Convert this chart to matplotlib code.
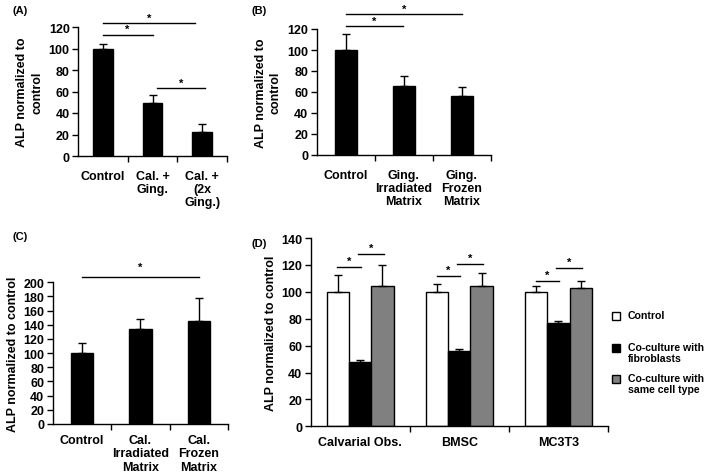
import matplotlib
matplotlib.use("Agg")
import matplotlib.pyplot as plt
import numpy as np

plt.rcParams['font.family'] = ['Liberation Sans', 'DejaVu Sans']
plt.rcParams['font.weight'] = 'bold'
plt.rcParams['font.size'] = 9

# ---------------- data ----------------
a_cats = ["Control", "Cal. +\nGing.", "Cal. +\n(2x\nGing.)"]
a_vals = [100, 49.5, 22.5]
a_errs = [4.5, 7, 7.5]

b_cats = ["Control", "Ging.\nIrradiated\nMatrix", "Ging.\nFrozen\nMatrix"]
b_vals = [100, 65.5, 56]
b_errs = [15, 9.5, 8.5]

c_cats = ["Control", "Cal.\nIrradiated\nMatrix", "Cal.\nFrozen\nMatrix"]
c_vals = [100, 134.5, 146]
c_errs = [15, 13.5, 32]

d_cats = ["Calvarial Obs.", "BMSC", "MC3T3"]
d_series = ["Control", "Co-culture with\nfibroblasts", "Co-culture with\nsame cell type"]
d_control = [100, 100, 100]
d_control_err = [12.5, 6, 4.2]
d_fibro = [48, 56.2, 76.8]
d_fibro_err = [1.5, 1.5, 1.5]
d_same = [104, 104, 102.5]
d_same_err = [16, 10, 5.3]

fig = plt.figure(figsize=(7.09, 4.77), dpi=100)
W, H = 709.0, 477.0


def style_axes(ax, n, ylim, yticks, cats, ylabel, label_pad, xpad):
    ax.set_xlim(-0.5, n - 0.5)
    ax.set_ylim(*ylim)
    ax.set_yticks(yticks)
    ax.spines['top'].set_visible(False)
    ax.spines['right'].set_visible(False)
    for s in ('left', 'bottom'):
        ax.spines[s].set_linewidth(1.0)
    ax.set_xticks(range(n))
    ax.set_xticklabels(cats, fontweight='bold', fontsize=9, linespacing=1.12)
    ax.tick_params(axis='x', which='major', length=0, pad=xpad)
    ax.set_xticks(np.arange(0.5, n, 1.0), minor=True)
    ax.tick_params(axis='x', which='minor', length=4, width=1, direction='out')
    ax.tick_params(axis='y', length=4, width=1, direction='out', pad=2, labelsize=9)
    for t in ax.get_yticklabels():
        t.set_fontweight('bold')
    ax.set_ylabel(ylabel, fontweight='bold', fontsize=9, labelpad=label_pad, linespacing=1.35)


def sig(ax, x0, x1, y, dy):
    ax.plot([x0, x1], [y, y], color='black', lw=1, clip_on=False)
    ax.text((x0 + x1) / 2, y + dy, '*', ha='center', va='center', fontsize=8, clip_on=False)


ekw = dict(ecolor='black', elinewidth=1, capsize=2.6, capthick=1)

# ---------------- (A) ----------------
axA = fig.add_axes([78 / W, 1 - 157 / H, 149 / W, 129 / H])
x = np.arange(len(a_cats))
axA.bar(x, a_vals, width=0.4, color='black', edgecolor='black', lw=1)
axA.errorbar(x, a_vals, yerr=[np.zeros(len(a_errs)), a_errs], fmt='none', **ekw)
style_axes(axA, 3, (0, 120), range(0, 121, 20), a_cats, "ALP normalized to\ncontrol", 4, 10)
sig(axA, 0, 1.86, 123.7, 5)
sig(axA, 0, 1.0, 113, 5)
sig(axA, 1.09, 2.06, 63, 5)
fig.text(12 / W, 1 - 11 / H, "(A)", fontsize=8, fontweight='bold', va='center')

# ---------------- (B) ----------------
axB = fig.add_axes([316.7 / W, 1 - 156 / H, 174 / W, 126 / H])
x = np.arange(len(b_cats))
axB.bar(x, b_vals, width=0.38, color='black', edgecolor='black', lw=1)
axB.errorbar(x, b_vals, yerr=[np.zeros(len(b_errs)), b_errs], fmt='none', **ekw)
style_axes(axB, 3, (0, 120), range(0, 121, 20), b_cats, "ALP normalized to\ncontrol", 4, 10)
sig(axB, 0, 2.0, 134, 5)
sig(axB, 0, 0.98, 123, 5)
fig.text(252 / W, 1 - 11 / H, "(B)", fontsize=8, fontweight='bold', va='center')

# ---------------- (C) ----------------
axC = fig.add_axes([52.7 / W, 1 - 425 / H, 175.5 / W, 141.7 / H])
x = np.arange(len(c_cats))
axC.bar(x, c_vals, width=0.39, color='black', edgecolor='black', lw=1)
axC.errorbar(x, c_vals, yerr=[np.zeros(len(c_errs)), c_errs], fmt='none', **ekw)
style_axes(axC, 3, (0, 200), range(0, 201, 20), c_cats, "ALP normalized to control", 3, 7.5)
sig(axC, 0, 2.0, 207.5, 15)
fig.text(12 / W, 1 - 237 / H, "(C)", fontsize=8, fontweight='bold', va='center')

# ---------------- (D) ----------------
axD = fig.add_axes([310.7 / W, 1 - 427.3 / H, 297.3 / W, 188.3 / H])
x = np.arange(len(d_cats))
w = 0.224
colors = ['white', 'black', '#808080']
vals = [d_control, d_fibro, d_same]
errs = [d_control_err, d_fibro_err, d_same_err]
for k in range(3):
    xs = x + (k - 1) * w
    axD.bar(xs, vals[k], width=w, color=colors[k], edgecolor='black', lw=1)
    axD.errorbar(xs, vals[k], yerr=[np.zeros(3), errs[k]], fmt='none', **ekw)
style_axes(axD, 3, (0, 140), range(0, 141, 20), d_cats, "ALP normalized to control", 3, 7)
sig_d = [(118.2, 128), (111.5, 120.7), (107.8, 117.5)]
for i, (y1, y2) in enumerate(sig_d):
    sig(axD, i - 0.23, i + 0.01, y1, 4.5)
    sig(axD, i - 0.02, i + 0.24, y2, 4.5)
fig.text(252 / W, 1 - 244 / H, "(D)", fontsize=8, fontweight='bold', va='center')

# legend (markers aligned with the first text line, as in the reference)
leg_y = [317, 349, 380]
for c, lab, yy in zip(colors, d_series, leg_y):
    fig.add_artist(plt.Line2D([616 / W], [1 - yy / H], marker='s', ls='none', markersize=5.5,
                              markerfacecolor=c, markeredgecolor='black', markeredgewidth=1,
                              transform=fig.transFigure))
    fig.text(628 / W, 1 - (yy - 6) / H, lab, fontsize=7.6, fontweight='bold', va='top',
             ha='left', linespacing=1.1)

fig.savefig("out.png", dpi=100)
